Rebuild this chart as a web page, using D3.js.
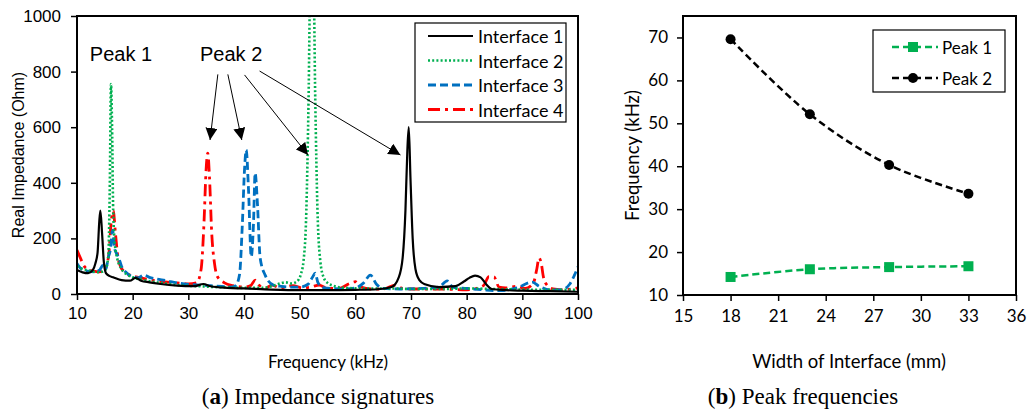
<!DOCTYPE html>
<html>
<head>
<meta charset="utf-8">
<script src="https://cdn.jsdelivr.net/npm/d3@7"></script>
<style>
  body { margin: 0; background: #fff; }
  svg { display: block; }
</style>
</head>
<body>
<svg width="1030" height="412"></svg>
<script>
// (a) impedance signatures
const freq1 = [10, 11, 12, 12.8, 13.3, 13.7, 14.0, 14.2, 14.5, 14.8, 15.2, 15.8, 16.5, 18, 19.5, 20.5, 21.5, 23, 25, 28, 31, 32.7, 34, 37, 40, 45, 50, 55, 60, 64, 66.5, 67.8, 68.5, 69, 69.35, 69.6, 69.9, 70.3, 70.8, 71.5, 72.5, 75, 78, 79.5, 80.5, 81.5, 82.5, 83.5, 84.5, 87, 90, 95, 100];
const imp1 = [86, 78, 75, 85, 110, 150, 260, 300, 220, 120, 75, 65, 60, 50, 48, 58, 48, 42, 36, 30, 28, 36, 28, 22, 20, 16, 14, 14, 15, 17, 25, 60, 130, 300, 520, 600, 420, 200, 90, 50, 35, 25, 28, 45, 58, 66, 60, 35, 18, 14, 12, 10, 8];

const freq2 = [10, 11, 12, 13, 14, 15, 15.6, 15.9, 16.1, 16.3, 16.5, 16.8, 17.2, 18, 19, 20, 22, 25, 28, 32, 36, 40, 43, 45, 46.5, 47.5, 48.5, 49.5, 50.2, 50.7, 51.2, 51.6, 51.9, 52.5, 52.8, 53.2, 53.7, 54.3, 55, 56, 58, 62, 66, 70, 75, 80, 85, 90, 95, 100];
const imp2 = [100, 90, 85, 80, 78, 85, 130, 400, 755, 600, 300, 180, 130, 90, 70, 60, 50, 40, 32, 28, 24, 22, 22, 28, 38, 42, 38, 45, 70, 120, 300, 700, 1100, 1100, 700, 300, 120, 60, 40, 30, 22, 20, 20, 18, 18, 20, 18, 16, 15, 15];

const freq3 = [10, 10.8, 12, 13, 14, 14.7, 15.2, 15.6, 16, 16.4, 16.7, 17, 17.5, 18, 19, 20, 21, 22, 23, 24, 26, 28, 30, 32, 34, 36, 37.5, 38.5, 39.2, 39.7, 40.1, 40.4, 40.8, 41.3, 41.7, 42.0, 42.4, 42.9, 43.8, 45.3, 46.5, 48, 50, 51.5, 52.3, 52.8, 53.3, 54.5, 56, 58, 60, 61.5, 62.7, 63.8, 65, 68, 72, 75, 76.5, 77.5, 80, 83, 86, 89, 91.8, 93, 95, 97, 98.5, 99.3, 100];
const imp3 = [110, 90, 82, 80, 85, 104, 90, 130, 160, 230, 170, 150, 130, 100, 75, 62, 58, 68, 60, 55, 48, 40, 35, 32, 30, 27, 25, 30, 70, 250, 450, 518, 380, 134, 250, 435, 330, 130, 68, 32, 28, 25, 25, 35, 60, 75, 40, 22, 20, 18, 22, 40, 68, 35, 20, 18, 20, 25, 47, 25, 20, 15, 12, 22, 43, 28, 15, 15, 35, 65, 98];

const freq4 = [10, 10.6, 11.3, 12, 13, 14, 15, 15.7, 16.1, 16.5, 16.9, 17.3, 17.8, 18.5, 19.5, 21, 23, 25, 28, 30, 31.5, 32.3, 32.8, 33.2, 33.5, 33.8, 34.2, 34.7, 35.3, 36.5, 38, 40, 41.2, 42, 42.8, 44, 45, 46.5, 48.8, 50.5, 52, 53.5, 55, 57, 59, 60, 61, 63, 65, 67.2, 68.5, 71, 75, 80, 83, 84, 84.9, 85.8, 87, 89, 90.5, 92, 92.6, 93, 93.4, 93.8, 94.5, 95.5, 97, 100];
const imp4 = [158, 130, 100, 88, 82, 80, 90, 140, 250, 300, 220, 140, 100, 80, 68, 60, 52, 45, 40, 36, 40, 90, 250, 450, 507, 420, 220, 110, 60, 40, 30, 25, 30, 50, 30, 22, 32, 22, 30, 22, 25, 32, 20, 20, 38, 44, 25, 18, 18, 32, 20, 18, 18, 15, 30, 62, 62, 25, 22, 28, 20, 40, 90, 130, 110, 60, 30, 18, 15, 22];

const seriesNames = ["Interface 1", "Interface 2", "Interface 3", "Interface 4"];
const freqTicks = [10, 20, 30, 40, 50, 60, 70, 80, 90, 100];
const impTicks = [0, 200, 400, 600, 800, 1000];

// arrows from the "Peak 2" label: [fromFreq, fromImp, toFreq, toImp]
const peak2Arrows = [
  [35.3, 790, 33.9, 554],
  [37.1, 790, 39.6, 554],
  [40.1, 788, 51.5, 500],
  [42.8, 802, 68.1, 500]
];

// (b) peak frequencies
const widths = [18, 23, 28, 33];
const peak1 = [14.2, 16.0, 16.5, 16.7];
const peak2 = [69.6, 52.1, 40.3, 33.6];
const widthTicks = [15, 18, 21, 24, 27, 30, 33, 36];
const peakFreqTicks = [10, 20, 30, 40, 50, 60, 70];

(function (d3) {
  "use strict";

  const svg = d3.select("svg");
  svg.append("rect").attr("width", 1030).attr("height", 412).attr("fill", "#fff");

  const calibri = "Lato, 'Open Sans', sans-serif";
  const arial = "'Liberation Sans', Arial, sans-serif";
  const serif = "'Liberation Serif', 'DejaVu Serif', serif";

  // ---------- (a) ----------
  const a = { left: 77, top: 16, right: 578, bottom: 294 };
  const x = d3.scaleLinear().domain([10, 100]).range([a.left, a.right]);
  const y = d3.scaleLinear().domain([0, 1000]).range([a.bottom, a.top]);

  svg.append("defs").append("clipPath").attr("id", "clipA")
    .append("rect")
    .attr("x", a.left).attr("y", a.top)
    .attr("width", a.right - a.left).attr("height", a.bottom - a.top);

  const styles = [
    { color: "#000000", dash: null, width: 2.2 },
    { color: "#00B050", dash: "2 2.2", width: 2.6 },
    { color: "#0070C0", dash: "8 4", width: 2.8 },
    { color: "#FF0000", dash: "12 5 3 5", width: 2.8 }
  ];

  const spectra = [
    d3.zip(freq1, imp1),
    d3.zip(freq2, imp2),
    d3.zip(freq3, imp3),
    d3.zip(freq4, imp4)
  ];

  const line = d3.line()
    .x((d) => x(d[0]))
    .y((d) => y(d[1]))
    .curve(d3.curveMonotoneX);

  const plotA = svg.append("g").attr("clip-path", "url(#clipA)");
  // draw order: black last so it sits on top like the original
  [3, 2, 1, 0].forEach((i) => {
    plotA.append("path")
      .attr("d", line(spectra[i]))
      .attr("fill", "none")
      .attr("stroke", styles[i].color)
      .attr("stroke-width", styles[i].width)
      .attr("stroke-dasharray", styles[i].dash)
      .attr("stroke-linejoin", "round");
  });

  const xAxisA = svg.append("g")
    .attr("transform", `translate(0,${a.bottom})`)
    .call(d3.axisBottom(x).tickValues(freqTicks).tickSize(6).tickPadding(7).tickFormat(d3.format("d")));
  const yAxisA = svg.append("g")
    .attr("transform", `translate(${a.left},0)`)
    .call(d3.axisLeft(y).tickValues(impTicks).tickSize(6).tickPadding(10).tickFormat(d3.format("d")));
  [xAxisA, yAxisA].forEach((g) => {
    g.select(".domain").remove();
    g.selectAll("line").attr("stroke", "#000").attr("stroke-width", 1.5);
    g.selectAll("text").attr("font-family", arial).attr("font-size", 17).attr("fill", "#000");
  });

  svg.append("rect")
    .attr("x", a.left).attr("y", a.top)
    .attr("width", a.right - a.left).attr("height", a.bottom - a.top)
    .attr("fill", "none").attr("stroke", "#000").attr("stroke-width", 2);

  svg.append("text")
    .attr("transform", `translate(18,${(a.top + a.bottom) / 2}) rotate(-90)`)
    .attr("text-anchor", "middle")
    .attr("dominant-baseline", "central")
    .attr("font-family", arial).attr("font-size", 16)
    .text("Real Impedance (Ohm)");

  svg.append("text")
    .attr("x", 328).attr("y", 368)
    .attr("text-anchor", "middle")
    .attr("font-family", calibri).attr("font-size", 17)
    .text("Frequency (kHz)");

  svg.append("text").attr("x", x(12.3)).attr("y", y(838))
    .attr("font-family", arial).attr("font-size", 20).text("Peak 1");
  svg.append("text").attr("x", x(32.1)).attr("y", y(838))
    .attr("font-family", arial).attr("font-size", 20).text("Peak 2");

  svg.append("defs").append("marker")
    .attr("id", "arrowHead")
    .attr("viewBox", "0 0 10 10")
    .attr("refX", 10).attr("refY", 5)
    .attr("markerWidth", 12).attr("markerHeight", 12)
    .attr("markerUnits", "userSpaceOnUse")
    .attr("orient", "auto")
    .append("path").attr("d", "M0,0 L10,5 L0,10 Z").attr("fill", "#000");

  svg.append("g").selectAll("line")
    .data(peak2Arrows)
    .join("line")
    .attr("x1", (d) => x(d[0])).attr("y1", (d) => y(d[1]))
    .attr("x2", (d) => x(d[2])).attr("y2", (d) => y(d[3]))
    .attr("stroke", "#000").attr("stroke-width", 1)
    .attr("marker-end", "url(#arrowHead)");

  // legend (a)
  const legA = svg.append("g").attr("transform", "translate(415,23)");
  legA.append("rect").attr("width", 151).attr("height", 99)
    .attr("fill", "#fff").attr("stroke", "#000").attr("stroke-width", 1.2);
  seriesNames.forEach((name, i) => {
    const ry = 13 + i * 24.5;
    legA.append("line")
      .attr("x1", 13).attr("x2", 58).attr("y1", ry).attr("y2", ry)
      .attr("stroke", styles[i].color)
      .attr("stroke-width", styles[i].width)
      .attr("stroke-dasharray", styles[i].dash);
    legA.append("text").attr("x", 63).attr("y", ry)
      .attr("dominant-baseline", "central")
      .attr("font-family", calibri).attr("font-size", 18)
      .text(name);
  });

  // ---------- (b) ----------
  const b = { left: 683, top: 16, right: 1016, bottom: 295 };
  const xb = d3.scaleLinear().domain([15, 36]).range([b.left, b.right]);
  const yb = d3.scaleLinear().domain([10, 75]).range([b.bottom, b.top]);

  const xAxisB = svg.append("g")
    .attr("transform", `translate(0,${b.bottom})`)
    .call(d3.axisBottom(xb).tickValues(widthTicks).tickSize(6).tickPadding(9));
  const yAxisB = svg.append("g")
    .attr("transform", `translate(${b.left},0)`)
    .call(d3.axisLeft(yb).tickValues(peakFreqTicks).tickSize(6).tickPadding(9));
  [xAxisB, yAxisB].forEach((g) => {
    g.select(".domain").remove();
    g.selectAll("line").attr("stroke", "#000").attr("stroke-width", 1.5);
    g.selectAll("text").attr("font-family", calibri).attr("font-size", 17).attr("fill", "#000");
  });

  svg.append("rect")
    .attr("x", b.left).attr("y", b.top)
    .attr("width", b.right - b.left).attr("height", b.bottom - b.top)
    .attr("fill", "none").attr("stroke", "#000").attr("stroke-width", 2);

  const lineB = d3.line()
    .x((d) => xb(d[0]))
    .y((d) => yb(d[1]))
    .curve(d3.curveCatmullRom);

  const peakSeries = [
    { name: "Peak 1", values: d3.zip(widths, peak1), color: "#00B050", shape: "square" },
    { name: "Peak 2", values: d3.zip(widths, peak2), color: "#000000", shape: "circle" }
  ];

  const drawMarker = (g, s, cx, cy) => {
    if (s.shape === "square") {
      g.append("rect").attr("x", cx - 5).attr("y", cy - 5)
        .attr("width", 10).attr("height", 10).attr("fill", s.color);
    } else {
      g.append("circle").attr("cx", cx).attr("cy", cy).attr("r", 5).attr("fill", s.color);
    }
  };

  peakSeries.forEach((s) => {
    svg.append("path")
      .attr("d", lineB(s.values))
      .attr("fill", "none")
      .attr("stroke", s.color)
      .attr("stroke-width", 2.5)
      .attr("stroke-dasharray", "7 4");
    const mg = svg.append("g");
    s.values.forEach((d) => drawMarker(mg, s, xb(d[0]), yb(d[1])));
  });

  svg.append("text")
    .attr("transform", `translate(632,${(b.top + b.bottom) / 2}) rotate(-90)`)
    .attr("text-anchor", "middle")
    .attr("dominant-baseline", "central")
    .attr("font-family", calibri).attr("font-size", 18.5)
    .text("Frequency (kHz)");

  svg.append("text")
    .attr("x", 849).attr("y", 368)
    .attr("text-anchor", "middle")
    .attr("font-family", calibri).attr("font-size", 18.5)
    .text("Width of Interface (mm)");

  // legend (b)
  const legB = svg.append("g").attr("transform", "translate(873,30)");
  legB.append("rect").attr("width", 132).attr("height", 62)
    .attr("fill", "#fff").attr("stroke", "#000").attr("stroke-width", 1.2);
  peakSeries.forEach((s, i) => {
    const ry = 17 + i * 31;
    legB.append("line")
      .attr("x1", 19).attr("x2", 65).attr("y1", ry).attr("y2", ry)
      .attr("stroke", s.color).attr("stroke-width", 2.5)
      .attr("stroke-dasharray", "7 4");
    drawMarker(legB, s, 40, ry);
    legB.append("text").attr("x", 69).attr("y", ry)
      .attr("dominant-baseline", "central")
      .attr("font-family", calibri).attr("font-size", 17)
      .text(s.name);
  });

  // captions
  const caption = (cx, letter, rest) => {
    const t = svg.append("text")
      .attr("x", cx).attr("y", 404)
      .attr("text-anchor", "middle")
      .attr("font-family", serif).attr("font-size", 23);
    t.append("tspan").text("(");
    t.append("tspan").attr("font-weight", "bold").text(letter);
    t.append("tspan").text(") " + rest);
  };
  caption(318, "a", "Impedance signatures");
  caption(803, "b", "Peak frequencies");
})(d3);
</script>
</body>
</html>
